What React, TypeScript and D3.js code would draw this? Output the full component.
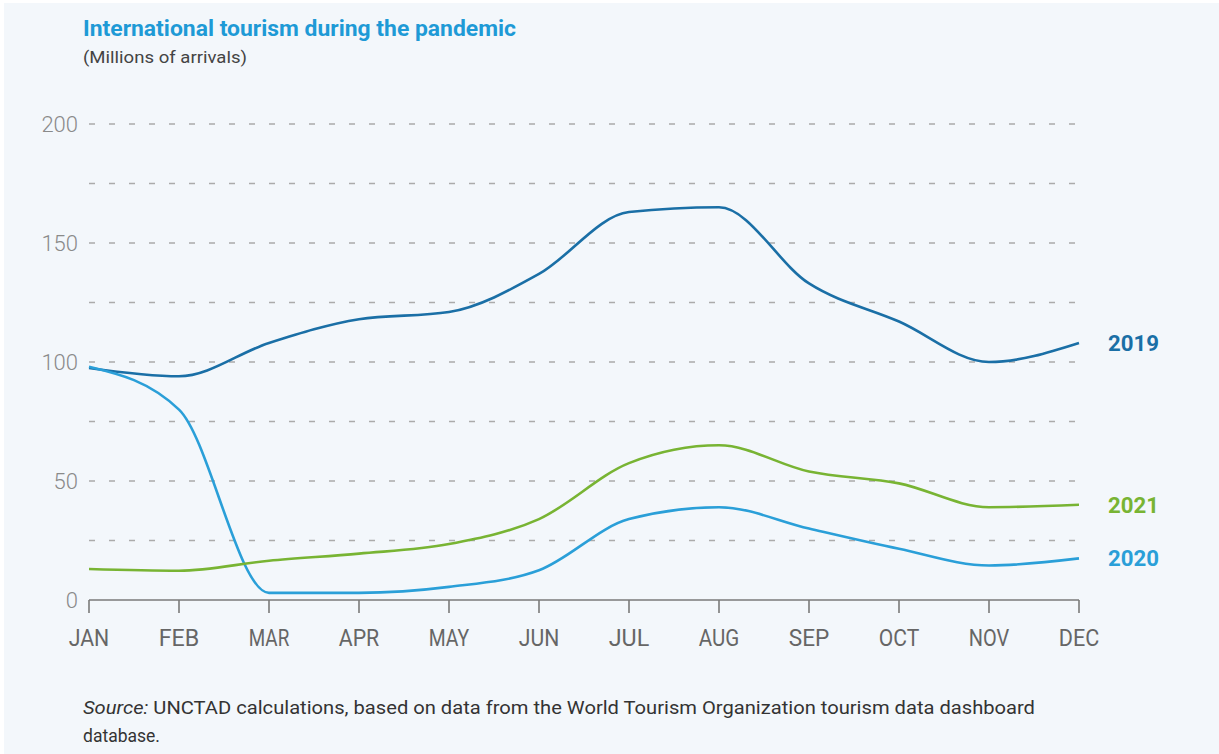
import React from "react";
import * as d3 from "d3";

const months = ["JAN","FEB","MAR","APR","MAY","JUN","JUL","AUG","SEP","OCT","NOV","DEC"];
const v2019 = [97.5, 94, 108, 118, 121, 137, 163, 165, 133, 117, 100, 108];
const v2020 = [98, 80, 3, 3, 5.5, 12.5, 34, 39, 30, 21.5, 14.5, 17.5];
const v2021 = [13, 12.3, 16.5, 19.5, 23.5, 34, 57.5, 65, 54, 49, 39, 40];
const yTicks = [0, 50, 100, 150, 200];
const gridValues = [25, 50, 75, 100, 125, 150, 175, 200];
const seriesNames = ["2019", "2020", "2021"];
const seriesColors = ["#1a6fa6", "#2a9fd8", "#78b433"];

const W = 1219, H = 754;

export default function App() {
  const x = d3.scalePoint<string>().domain(months).range([89, 1079]);
  const y = d3.scaleLinear().domain([0, 200]).range([600, 124]);
  const line = d3.line<number>()
    .x((_, i) => x(months[i]) as number)
    .y((d) => y(d))
    .curve(d3.curveMonotoneX);
  const series = [v2019, v2020, v2021];
  const font = "Roboto, 'Liberation Sans', sans-serif";

  return (
    <svg width={W} height={H} style={{ position: "absolute", left: 0, top: 0 }} fontFamily={font}>
      <rect x={0} y={0} width={W} height={H} fill="#ffffff" />
      <rect x={4} y={3} width={W - 4} height={H - 3} fill="#f3f7fb" />
      <text x={83} y={36} fontSize={22} fontWeight={700} fill="#1e9ad6" textLength={433} lengthAdjust="spacingAndGlyphs">International tourism during the pandemic</text>
      <text x={83} y={63} fontSize={17} fill="#444" textLength={164} lengthAdjust="spacingAndGlyphs">(Millions of arrivals)</text>

      {gridValues.map((g) => (
        <line key={g} x1={89} x2={1079} y1={y(g)} y2={y(g)} stroke="#ababab" strokeWidth={1.3} strokeDasharray="6,14" />
      ))}
      {yTicks.map((t) => (
        <text key={t} x={78} y={y(t)} dy="0.36em" textAnchor="end" fontSize={22} fontWeight={300} fill="#8a8a8a">{t}</text>
      ))}
      <line x1={89} x2={1079} y1={600} y2={600} stroke="#7a7a7a" strokeWidth={1.6} />
      {months.map((m) => (
        <g key={m}>
          <line x1={x(m)} x2={x(m)} y1={600} y2={613} stroke="#7a7a7a" strokeWidth={1.6} />
          <text x={x(m)} y={646} textAnchor="middle" fontSize={23} fill="#666" textLength={m.length * 13.5} lengthAdjust="spacingAndGlyphs">{m}</text>
        </g>
      ))}

      {series.map((s, i) => (
        <path key={i} d={line(s) as string} fill="none" stroke={seriesColors[i]} strokeWidth={2.6} />
      ))}
      {series.map((s, i) => (
        <text key={i} x={1108} y={y(s[s.length - 1])} dy="0.35em" fontSize={22} fontWeight={700} fill={seriesColors[i]} textLength={51} lengthAdjust="spacingAndGlyphs">{seriesNames[i]}</text>
      ))}

      <text x={83} y={714} fontSize={18.5} fill="#333" textLength={952} lengthAdjust="spacingAndGlyphs">
        <tspan fontStyle="italic">Source:</tspan> UNCTAD calculations, based on data from the World Tourism Organization tourism data dashboard
      </text>
      <text x={83} y={742} fontSize={18.5} fill="#333" textLength={77} lengthAdjust="spacingAndGlyphs">database.</text>
    </svg>
  );
}
